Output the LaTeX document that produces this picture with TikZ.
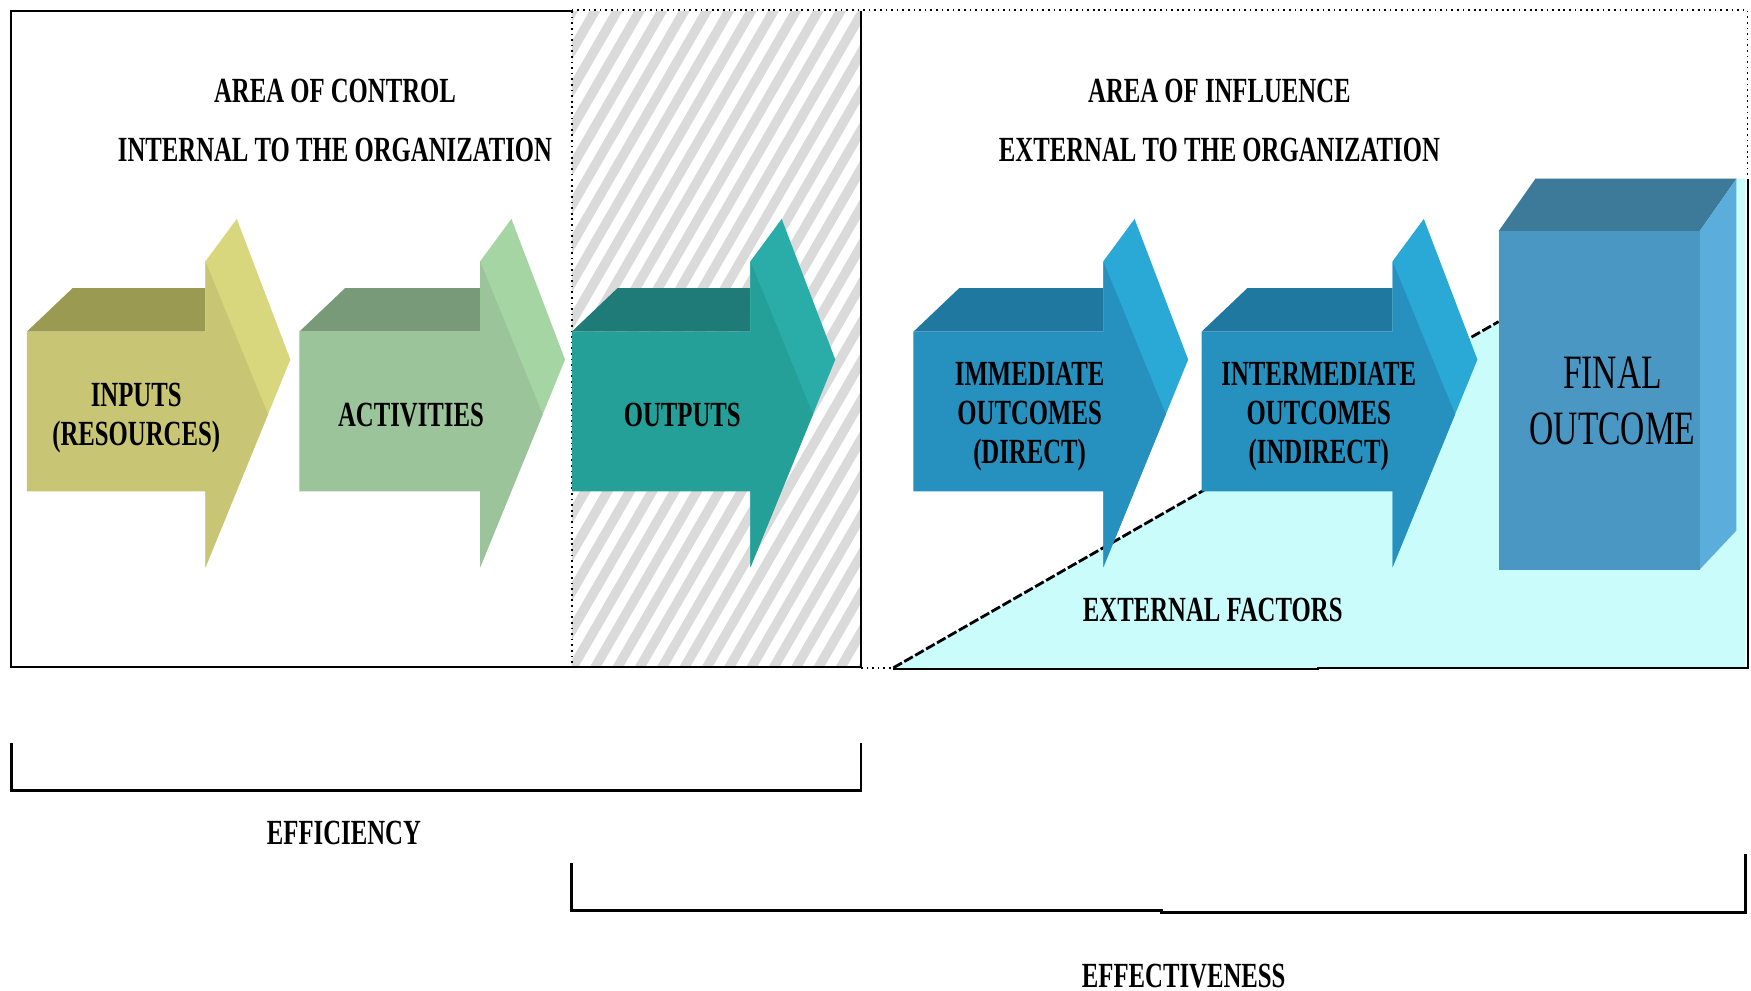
\documentclass[tikz,border=0pt]{standalone}
\usepackage{fontspec}
\newfontfamily\lab{Liberation Serif}[FakeStretch=0.7]
\definecolor{inF}{HTML}{C8C674}
\definecolor{inT}{HTML}{9A9A52}
\definecolor{inS}{HTML}{D8D77D}
\definecolor{acF}{HTML}{9BC49A}
\definecolor{acT}{HTML}{789A78}
\definecolor{acS}{HTML}{A6D5A4}
\definecolor{ouF}{HTML}{24A098}
\definecolor{ouT}{HTML}{1E7B77}
\definecolor{ouS}{HTML}{2AADA8}
\definecolor{imF}{HTML}{2690BE}
\definecolor{imT}{HTML}{1F789F}
\definecolor{imS}{HTML}{2AA8D6}
\definecolor{fiF}{HTML}{4A97C3}
\definecolor{fiT}{HTML}{3D7A9A}
\definecolor{fiS}{HTML}{5BAEDB}
\definecolor{extc}{HTML}{CAFCFC}
\definecolor{hatchc}{HTML}{DADADA}
% #1 shaft left, #2 head base, #3 front, #4 top, #5 side
\newcommand\tdarrow[5]{%
  \fill[#4] (#1,297) -- ++(41,-39) -- (#2,258) -- (#2,297) -- cycle;
  \fill[#5] (#2,234) -- ++(28,-38) -- ++(48,126) -- (#2,508) -- cycle;
  \fill[#3] (#1,297) -- (#2,297) -- (#2,234) -- ++(56,137) -- (#2,508) -- (#2,440) -- (#1,440) -- cycle;
}
\begin{document}
\begin{tikzpicture}[x=0.01cm,y=-0.01cm,
  lbl/.style={font=\lab\bfseries\fontsize{9}{9.9}\selectfont, align=center, inner sep=0pt},
  heading/.style={font=\lab\bfseries\fontsize{9}{15}\selectfont, align=center, inner sep=0pt},
  bigl/.style={font=\lab\fontsize{12.2}{14.2}\selectfont, align=center, inner sep=0pt},
  border/.style={line width=0.02cm},
  dotb/.style={densely dotted, line width=0.015cm},
  bracket/.style={line width=0.025cm}]
\useasboundingbox (0,0) rectangle (1568,887);
\fill[white] (0,0) rectangle (1568,887);
% hatched zone
\begin{scope}
  \clip (512,10) rectangle (771,597);
  \foreach \a in {120,140,...,800} \draw[hatchc, line width=0.085cm] (\a,620) -- ++(370,-640);
\end{scope}
% external factors zone
\fill[extc] (800,598) -- (1342,288) -- (1342,207) -- (1375,160) -- (1563,160) -- (1563,598) -- cycle;
\draw[dash pattern=on 2.5pt off 0.7pt, line width=0.025cm] (800,598) -- (1342,288);
% borders
\draw[border] (512,10) -- (10,10) -- (10,597) -- (771,597);
\draw[dotb] (512,10) -- (512,597);
\draw[border] (771,10) -- (771,597);
\draw[dotb] (512,9) -- (1565,9) -- (1565,160);
\draw[border] (1565,160) -- (1565,598) -- (1180,598) -- (1180,599) -- (800,599);
\draw[dotb] (771,598) -- (800,598);
% arrows
\tdarrow{24}{184}{inF}{inT}{inS}
\tdarrow{268}{430}{acF}{acT}{acS}
\tdarrow{512}{672}{ouF}{ouT}{ouS}
\tdarrow{818}{988}{imF}{imT}{imS}
\tdarrow{1076}{1247}{imF}{imT}{imS}
% final box
\fill[fiT] (1342,207) -- (1375,160) -- (1555,160) -- (1522,207) -- cycle;
\fill[fiS] (1522,207) -- (1555,160) -- (1555,475) -- (1522,510) -- cycle;
\fill[fiF] (1342,207) rectangle (1522,510);
% texts
\node[heading] (ctrl) at (300,108) {AREA OF CONTROL\\INTERNAL TO THE ORGANIZATION};
\node[heading] (infl) at (1092,108) {AREA OF INFLUENCE\\EXTERNAL TO THE ORGANIZATION};
\node[lbl] (inputs) at (122,374) {INPUTS\\(RESOURCES)};
\node[lbl] (act) at (368,372) {ACTIVITIES};
\node[lbl] (out) at (611,372) {OUTPUTS};
\node[lbl] (imm) at (922,373) {IMMEDIATE\\OUTCOMES\\(DIRECT)};
\node[lbl] (inter) at (1181,373) {INTERMEDIATE\\OUTCOMES\\(INDIRECT)};
\node[bigl] (final) at (1444,359) {FINAL\\OUTCOME};
\node[lbl] (extf) at (1086,546) {EXTERNAL FACTORS};
% brackets
\draw[bracket] (10,665) -- (10,708) -- (771,708) -- (771,665);
\draw[bracket] (512,773) -- (512,815) -- (1040,815) -- (1040,817) -- (1563,817) -- (1563,765);
\node[lbl] (eff) at (308,746) {EFFICIENCY};
\node[lbl] (effe) at (1060,874) {EFFECTIVENESS};
\end{tikzpicture}
\end{document}
